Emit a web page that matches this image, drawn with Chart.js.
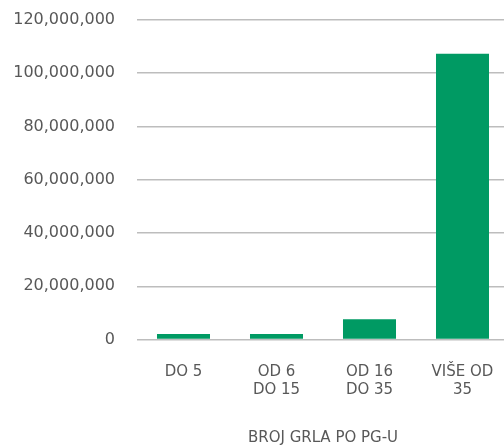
<!DOCTYPE html>
<html>
<head>
<meta charset="utf-8">
<script src="https://cdn.jsdelivr.net/npm/chart.js@4"></script>
<style>
  html, body { margin: 0; padding: 0; background: #fff; overflow: hidden; }
  canvas { display: block; }
</style>
</head>
<body>
<canvas id="grlaChart" width="509" height="447"></canvas>
<script>
// podaci
const categories = [['DO 5'], ['OD 6', 'DO 15'], ['OD 16', 'DO 35'], ['VIŠE OD', '35']];
const values = [2100000, 2100000, 7600000, 107300000];
const yTicks = [0, 20000000, 40000000, 60000000, 80000000, 100000000, 120000000];
const xTitle = 'BROJ GRLA PO PG-U';

const textColor = '#585858';
const gridColor = '#bdbdbd';

const ctx = document.getElementById('grlaChart').getContext('2d');
const grlaChart = new Chart(ctx, {
  type: 'bar',
  data: {
    labels: categories,
    datasets: [{
      data: values,
      backgroundColor: '#009a63',
      borderWidth: 0,
      categoryPercentage: 1,
      barPercentage: 0.57
    }]
  },
  options: {
    responsive: false,
    animation: false,
    layout: {
      padding: { top: 20, left: 0, right: 0, bottom: 0 }
    },
    plugins: {
      legend: { display: false },
      tooltip: { enabled: false }
    },
    scales: {
      x: {
        grid: { display: false, drawTicks: false },
        border: { display: false },
        ticks: {
          color: textColor,
          padding: 24,
          maxRotation: 0,
          font: { family: 'DejaVu Sans', size: 15, lineHeight: 1.2 }
        },
        title: {
          display: true,
          text: xTitle,
          color: textColor,
          padding: { top: 29, bottom: 0 },
          font: { family: 'DejaVu Sans', size: 15, lineHeight: 1.2 }
        },
        afterFit: function(axis) {
          axis.height = 107.5;
          axis.paddingLeft = 0;
          axis.paddingRight = 0;
        }
      },
      y: {
        min: yTicks[0],
        max: yTicks[yTicks.length - 1],
        afterBuildTicks: function(axis) {
          axis.ticks = yTicks.map(v => ({ value: v }));
        },
        grid: { color: gridColor, lineWidth: 1.5, drawTicks: false },
        border: { display: false },
        ticks: {
          color: textColor,
          padding: 22,
          font: { family: 'DejaVu Sans', size: 16 },
          callback: function(v) { return Number(v).toLocaleString('en-US'); }
        },
        afterFit: function(axis) {
          axis.width = 137;
          axis.paddingTop = 10;
          axis.paddingBottom = 10;
        }
      }
    }
  }
});
</script>
</body>
</html>
